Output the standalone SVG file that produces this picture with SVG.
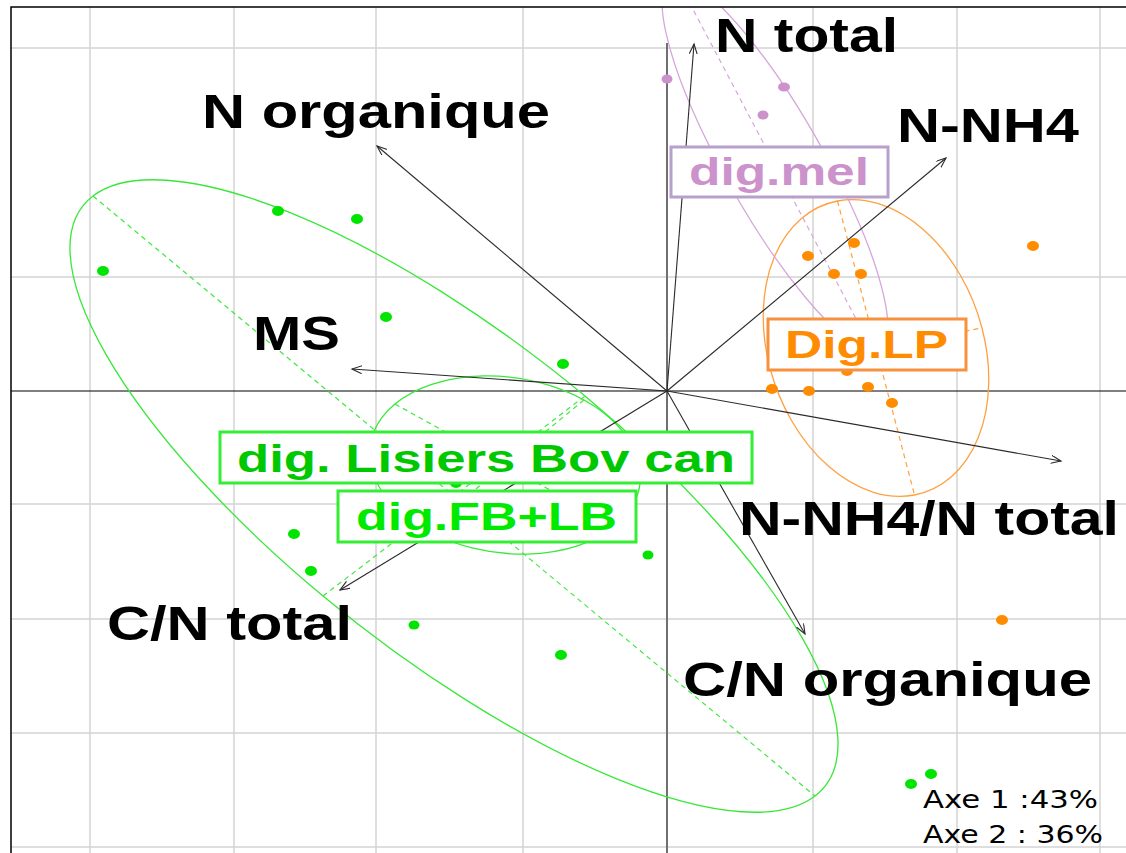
<svg xmlns="http://www.w3.org/2000/svg" width="1126" height="853" viewBox="0 0 1126 853">
<style>
.grid{stroke:#d4d4d4;stroke-width:1.5;fill:none}
.ell{fill:none;stroke-width:1.3;vector-effect:non-scaling-stroke}
.dash{fill:none;stroke-width:1.2;stroke-dasharray:5 4}
.arr{stroke:#2a2a2a;stroke-width:1.1;fill:none;marker-end:url(#ah)}
.lab{font-family:"Liberation Sans",Arial,sans-serif;font-weight:bold;font-size:48px;fill:#000}
.glab{font-family:"Liberation Sans",Arial,sans-serif;font-weight:bold;font-size:39px}
.box{fill:#fff;stroke-width:3}
.axe{font-family:"DejaVu Sans",sans-serif;font-size:24px;fill:#000}
.g{fill:#00e400}.o{fill:#ff8c00}.p{fill:#cc92cc}
</style>
<defs>
<clipPath id="plot"><rect x="11" y="7" width="1115" height="846"/></clipPath>
<marker id="ah" markerUnits="userSpaceOnUse" markerWidth="12" markerHeight="10" refX="10" refY="4" orient="auto"><path d="M0,0 L10,4 L0,8" fill="none" stroke="#2a2a2a" stroke-width="1.1"/></marker>
</defs>
<rect width="1126" height="853" fill="#fff"/>
<g id="grid" class="grid">
<path d="M90,7V853M234,7V853M376,7V853M523,7V853M813,7V853M957,7V853M1100,7V853"/>
<path d="M11,48H1126M11,277H1126M11,504H1126M11,619H1126M11,733H1126M11,847H1126"/>
</g>
<g id="axes">
<line x1="667" y1="43" x2="667" y2="853" stroke="#707070" stroke-width="2"/>
<line x1="11" y1="391" x2="1126" y2="391" stroke="#000" stroke-width="1.2"/>
</g>
<g id="ellipses" clip-path="url(#plot)">
<ellipse class="ell" cx="0" cy="0" rx="1" ry="1" stroke="#38e838" transform="matrix(361 300 -131 100 454 496)"/>
<ellipse class="ell" cx="0" cy="0" rx="1" ry="1" stroke="#38e838" transform="matrix(-110 -61 79 -65 505 465)"/>
<ellipse class="ell" cx="0" cy="0" rx="1" ry="1" stroke="#ffa040" transform="matrix(38.5 147 106 -20 876 348)"/>
<ellipse class="ell" cx="0" cy="0" rx="1" ry="1" stroke="#d6a6dc" transform="matrix(98 186 56 0 775 165)"/>
<g class="dash" stroke="#40e840">
<line x1="93" y1="196" x2="815" y2="796"/>
<line x1="323" y1="596" x2="585" y2="396"/>
<line x1="395" y1="404" x2="615" y2="526"/>
<line x1="584" y1="400" x2="426" y2="530"/>
</g>
<g class="dash" stroke="#ffa040">
<line x1="837.5" y1="201" x2="914.5" y2="495"/>
<line x1="770" y1="368" x2="982" y2="328"/>
</g>
<g class="dash" stroke="#d6a6dc">
<line x1="677" y1="-21" x2="873" y2="351"/>
</g>
</g>
<g id="points">
<g class="g">
<ellipse cx="103" cy="271" rx="6" ry="5"/><ellipse cx="278" cy="211" rx="6" ry="5"/><ellipse cx="357" cy="219" rx="6" ry="5"/><ellipse cx="386" cy="317" rx="6" ry="5"/><ellipse cx="563" cy="364" rx="6" ry="5"/><ellipse cx="456" cy="483" rx="6" ry="5"/><ellipse cx="294" cy="534" rx="6" ry="5"/><ellipse cx="311" cy="571" rx="6" ry="5"/><ellipse cx="414" cy="625" rx="5.5" ry="4.5"/><ellipse cx="648" cy="555" rx="5.5" ry="4.5"/><ellipse cx="561" cy="655" rx="6" ry="5"/><ellipse cx="911" cy="784" rx="6" ry="5"/><ellipse cx="931" cy="774" rx="6" ry="5"/>
</g>
<g class="o">
<ellipse cx="808" cy="256" rx="6" ry="5"/><ellipse cx="854" cy="243" rx="6" ry="5"/><ellipse cx="834" cy="274" rx="6" ry="5"/><ellipse cx="861" cy="274" rx="6" ry="5"/><ellipse cx="1033" cy="246" rx="6" ry="5"/><ellipse cx="772" cy="389" rx="6" ry="5"/><ellipse cx="809" cy="391" rx="6" ry="5"/><ellipse cx="868" cy="387" rx="6" ry="5"/><ellipse cx="892" cy="403" rx="6" ry="5"/><ellipse cx="847" cy="371" rx="6" ry="5"/><ellipse cx="1002" cy="620" rx="6" ry="5"/>
</g>
<g class="p">
<ellipse cx="667" cy="79" rx="5.5" ry="4.5"/><ellipse cx="784" cy="87" rx="6" ry="4.5"/><ellipse cx="763" cy="115" rx="5.5" ry="4.5"/>
</g>
</g>
<g id="connectors">
<line class="arr" x1="667" y1="391" x2="694" y2="44"/>
<line class="arr" x1="667" y1="391" x2="377" y2="146"/>
<line class="arr" x1="667" y1="391" x2="946" y2="158"/>
<line class="arr" x1="667" y1="391" x2="352" y2="369"/>
<line class="arr" x1="667" y1="391" x2="1061" y2="461"/>
<line class="arr" x1="667" y1="391" x2="805" y2="634"/>
<line class="arr" x1="667" y1="391" x2="340" y2="590"/>
</g>
<g id="group-dig-mel">
<rect class="box" x="671" y="147" width="217" height="50" stroke="#b8a0cc"/>
<text class="glab" x="689" y="185" fill="#cc92cc" textLength="180" lengthAdjust="spacingAndGlyphs">dig.mel</text>
</g>
<g id="group-dig-lp">
<rect class="box" x="768" y="319" width="198" height="51" stroke="#f7913d"/>
<text class="glab" x="785" y="358" fill="#ff8c00" textLength="163" lengthAdjust="spacingAndGlyphs">Dig.LP</text>
</g>
<g id="group-lisiers">
<rect class="box" x="220" y="432" width="532" height="51" stroke="#33ee33"/>
<text class="glab" x="237" y="472" fill="#00c800" textLength="498" lengthAdjust="spacingAndGlyphs">dig. Lisiers Bov can</text>
</g>
<g id="group-fb-lb">
<rect class="box" x="338" y="491" width="298" height="51" stroke="#33ee33"/>
<text class="glab" x="356" y="530" fill="#00ea00" textLength="261" lengthAdjust="spacingAndGlyphs">dig.FB+LB</text>
</g>
<g id="var-ntotal"><text class="lab" x="715" y="52" textLength="183" lengthAdjust="spacingAndGlyphs">N total</text></g>
<g id="var-norganique"><text class="lab" x="202" y="128" textLength="348" lengthAdjust="spacingAndGlyphs">N organique</text></g>
<g id="var-nnh4"><text class="lab" x="897" y="142" textLength="182" lengthAdjust="spacingAndGlyphs">N-NH4</text></g>
<g id="var-ms"><text class="lab" x="253" y="350" textLength="87" lengthAdjust="spacingAndGlyphs">MS</text></g>
<g id="var-nnh4-ntotal"><text class="lab" x="739" y="535" textLength="380" lengthAdjust="spacingAndGlyphs">N-NH4/N total</text></g>
<g id="var-cn-organique"><text class="lab" x="683" y="696" textLength="409" lengthAdjust="spacingAndGlyphs">C/N organique</text></g>
<g id="var-cn-total"><text class="lab" x="107" y="640" textLength="245" lengthAdjust="spacingAndGlyphs">C/N total</text></g>
<g id="frame">
<path d="M11,853V7H1126" fill="none" stroke="#000" stroke-width="1.5"/>
</g>
<g id="legend">
<text class="axe" x="923" y="808" textLength="175" lengthAdjust="spacingAndGlyphs">Axe 1 :43%</text>
<text class="axe" x="923" y="843" textLength="180" lengthAdjust="spacingAndGlyphs">Axe 2 : 36%</text>
</g>
</svg>
